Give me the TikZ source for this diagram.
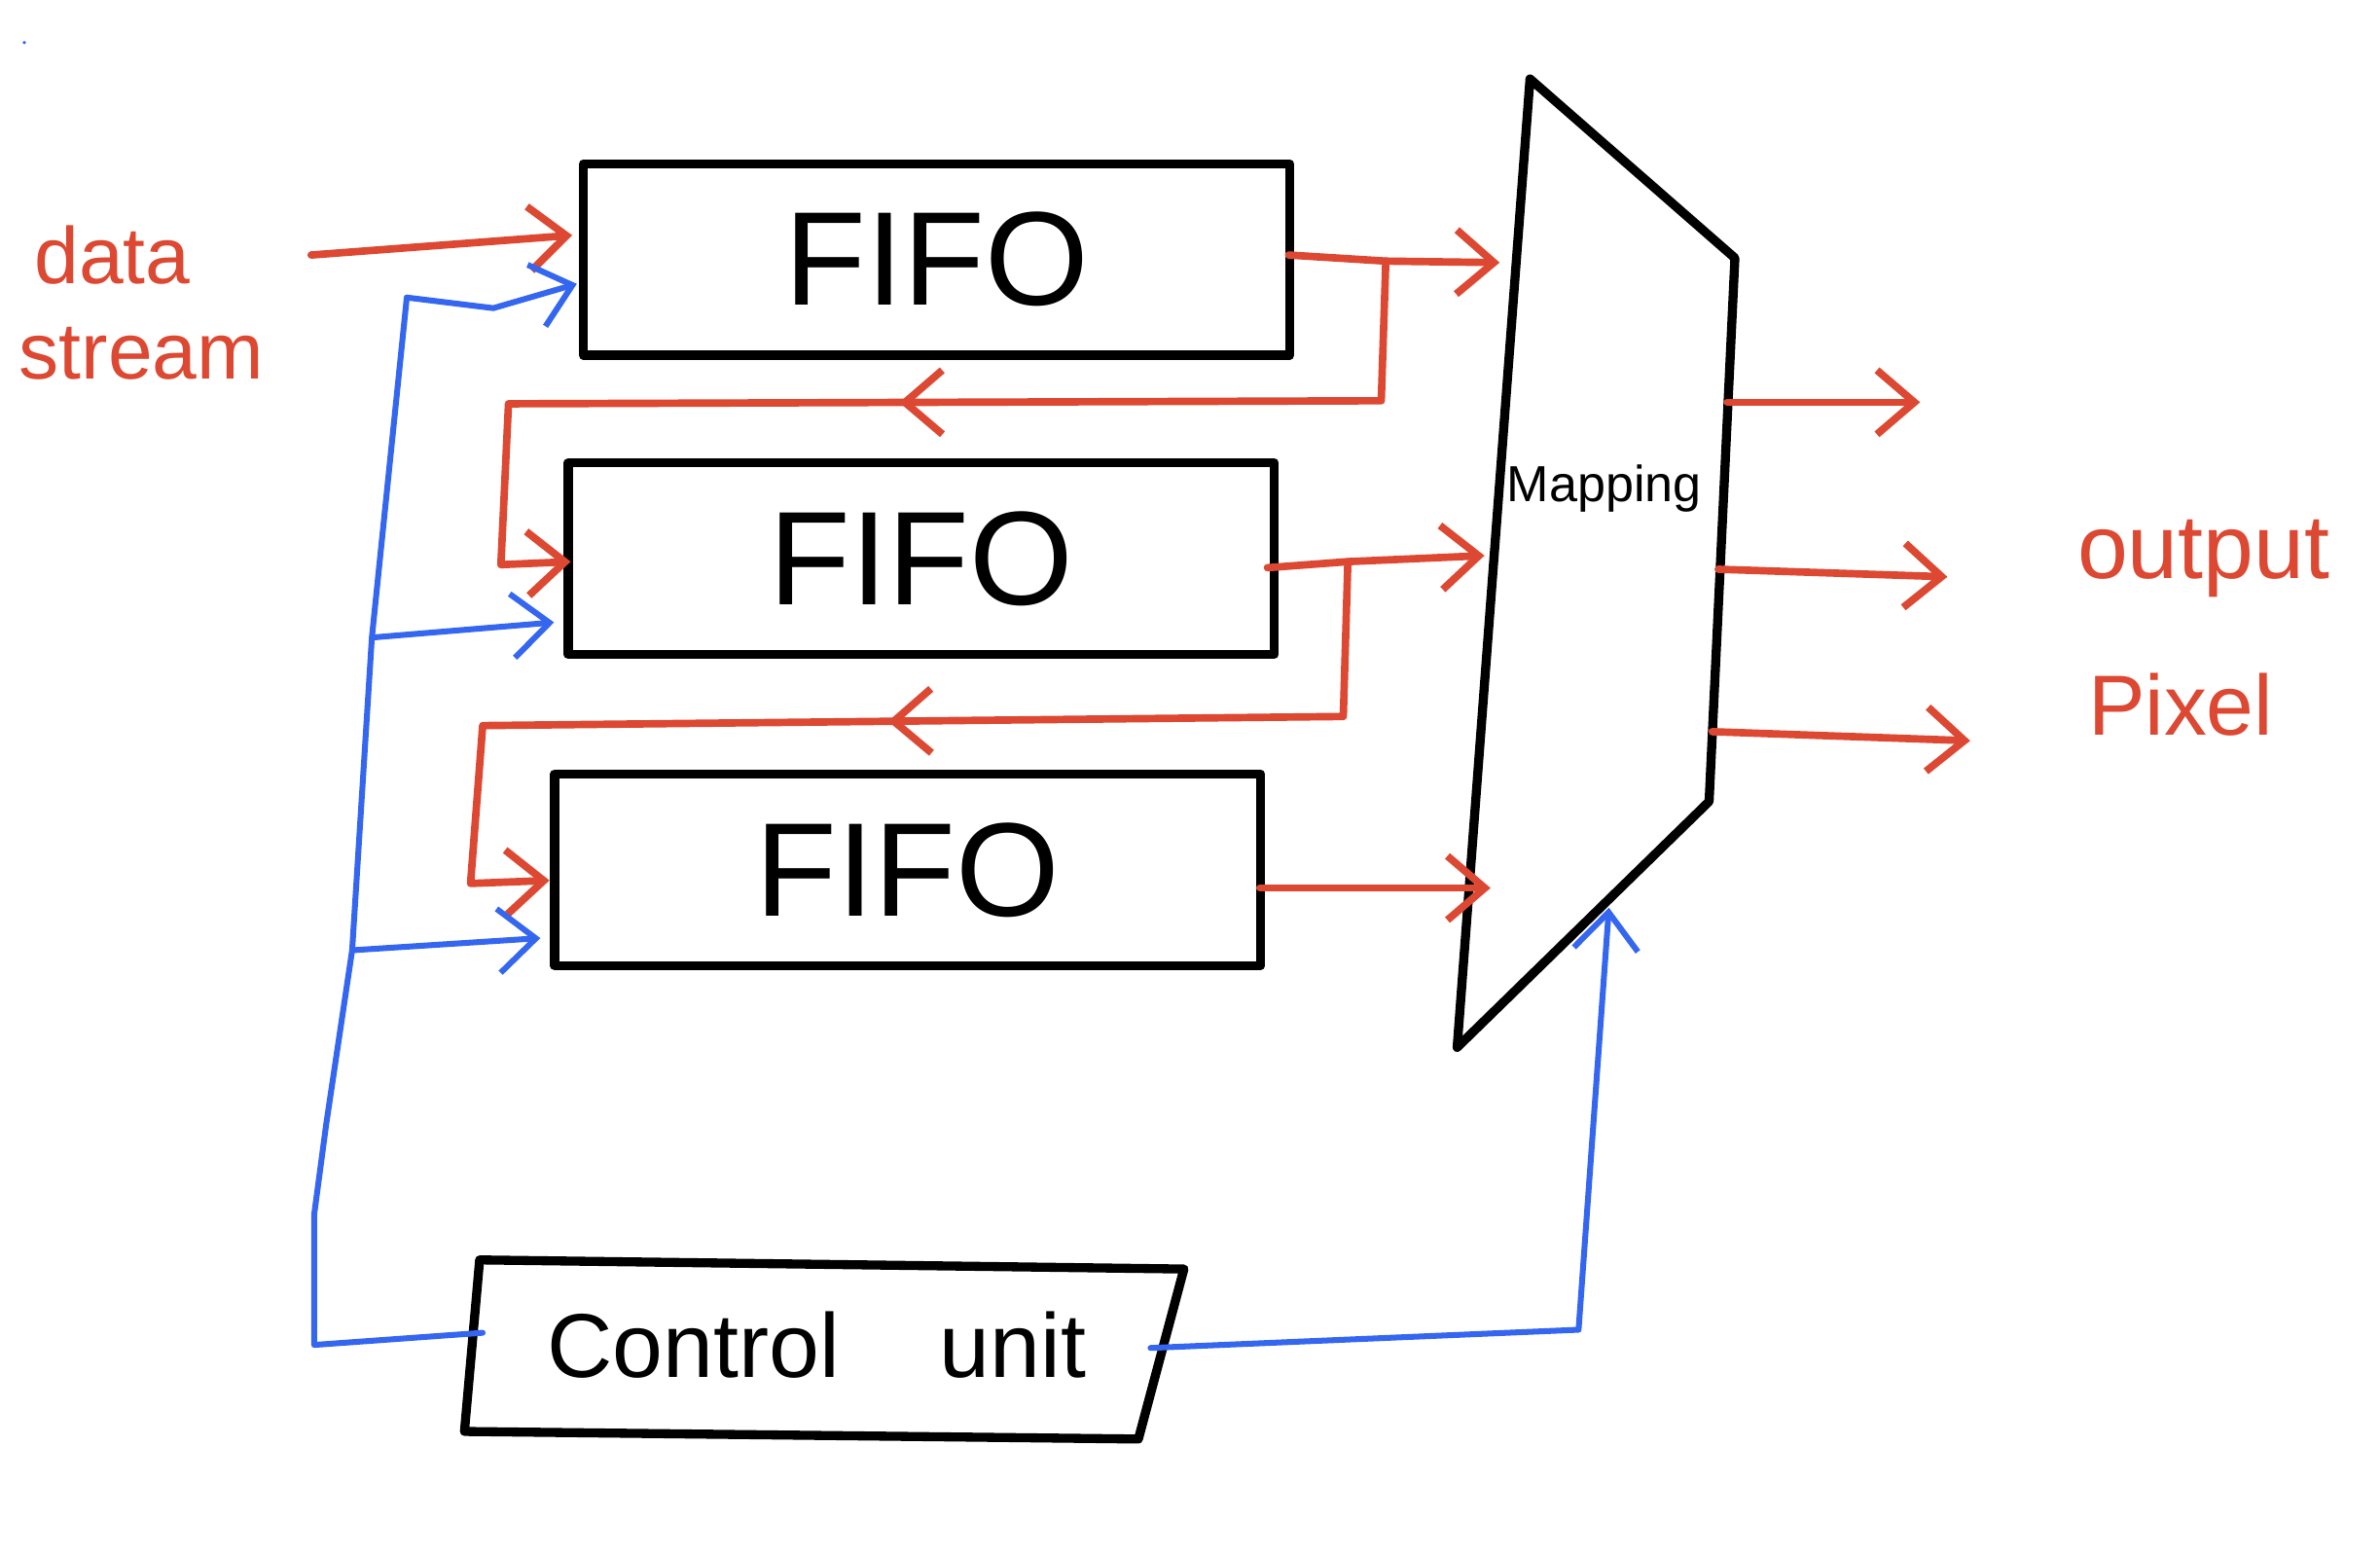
\documentclass[tikz,border=0pt]{standalone}
\usepackage{fontspec}
\setmainfont{Liberation Sans}
\usetikzlibrary{arrows.meta,decorations.markings}
\definecolor{hred}{RGB}{220,72,50}
\definecolor{hblue}{RGB}{52,102,240}
\begin{document}
\begin{tikzpicture}[x=0.01cm,y=-0.01cm,
  blk/.style={draw=black,line width=1.7pt,line cap=round,line join=round},
  fifobox/.style={blk,minimum width=4.65cm,minimum height=1.26cm,inner sep=0pt,
    font=\fontsize{25}{30}\selectfont},
  rl/.style={draw=hred,line width=1.4pt,line cap=round,line join=round},
  bl/.style={draw=hblue,line width=1.1pt,line cap=round,line join=round},
  rarr/.style={rl,-{Straight Barb[length=7pt,width=12pt]}},
  barr/.style={bl,-{Straight Barb[length=7pt,width=12pt]}},
  midarr/.style={postaction={decorate},decoration={markings,
    mark=at position #1 with {\arrow{Straight Barb[length=7pt,width=12pt]}}}},
  rtxt/.style={text=hred,inner sep=0pt,anchor=base west}]
\useasboundingbox (0,0) rectangle (1568,1024);
% tiny dot
\fill[hblue] (16,28) circle (1.2);

% FIFO boxes
\node[fifobox] (f1) at (617,171) {FIFO};
\node[fifobox] (f2) at (607,368) {FIFO};
\node[fifobox] (f3) at (598,573) {FIFO};

% Mapping
\draw[blk] (1008,52) -- (1143,170) -- (1126,528) -- (960,690) -- cycle;
\node[inner sep=0pt,font=\fontsize{9.5}{11}\selectfont] (map) at (1057,322) {Mapping};

% Control unit
\draw[blk] (316,830) -- (780,836) -- (750,948) -- (306,943) -- cycle;
\node[inner sep=0pt,font=\fontsize{17}{21}\selectfont] (cu) at (538,886) {Control\hspace{1.1em}unit};

% labels
\node[rtxt,font=\fontsize{15}{18}\selectfont] (lbl1) at (22,187) {data};
\node[rtxt,font=\fontsize{15}{18}\selectfont] (lbl2) at (12,250) {stream};
\node[rtxt,font=\fontsize{17}{20}\selectfont] (lbl3) at (1368,381) {output};
\node[rtxt,font=\fontsize{16}{20}\selectfont] (lbl4) at (1375,484) {Pixel};

% connector points
\coordinate (ds) at (205,168);
\coordinate (f1in) at (377,155);
\coordinate (f1out) at (849,168);
\coordinate (j1) at (913,172);
\coordinate (m1) at (988,173);
\coordinate (f2in) at (376,370);
\coordinate (f2out) at (835,374);
\coordinate (j2) at (888,370);
\coordinate (m2) at (978,366);
\coordinate (f3in) at (362,580);
\coordinate (f3out) at (830,585);
\coordinate (m3) at (982,585);
\coordinate (o1s) at (1138,265);
\coordinate (o1e) at (1265,265);
\coordinate (o2s) at (1132,375);
\coordinate (o2e) at (1283,380);
\coordinate (o3s) at (1128,482);
\coordinate (o3e) at (1298,488);

% red data paths
\draw[rarr] (ds) -- (f1in);
\draw[rarr] (f1out) -- (j1) -- (m1);
\draw[rarr,midarr=0.5] (j1) -- (910,264) -- (335,266) -- (330,372) -- (f2in);
\draw[rarr] (f2out) -- (j2) -- (m2);
\draw[rarr,midarr=0.487] (j2) -- (885,472) -- (318,478) -- (310,582) -- (f3in);
\draw[rarr] (f3out) -- (m3);
\draw[rarr] (o1s) -- (o1e);
\draw[rarr] (o2s) -- (o2e);
\draw[rarr] (o3s) -- (o3e);

% blue control paths
\coordinate (cul) at (318,878);
\coordinate (cur) at (758,888);
\coordinate (b1) at (268,196);
\coordinate (b2) at (245,420);
\coordinate (b3) at (232,626);
\coordinate (c1) at (380,187);
\coordinate (c2) at (365,410);
\coordinate (c3) at (356,618);
\coordinate (mc) at (1060,598);
\draw[bl] (cul) -- (207,886) -- (207,800) -- (215,740) -- (b3) -- (b2) -- (b1);
\draw[barr] (b1) -- (325,203) -- (c1);
\draw[barr] (b2) -- (c2);
\draw[barr] (b3) -- (c3);
\draw[barr] (cur) -- (1040,876) -- (mc);
\end{tikzpicture}
\end{document}
